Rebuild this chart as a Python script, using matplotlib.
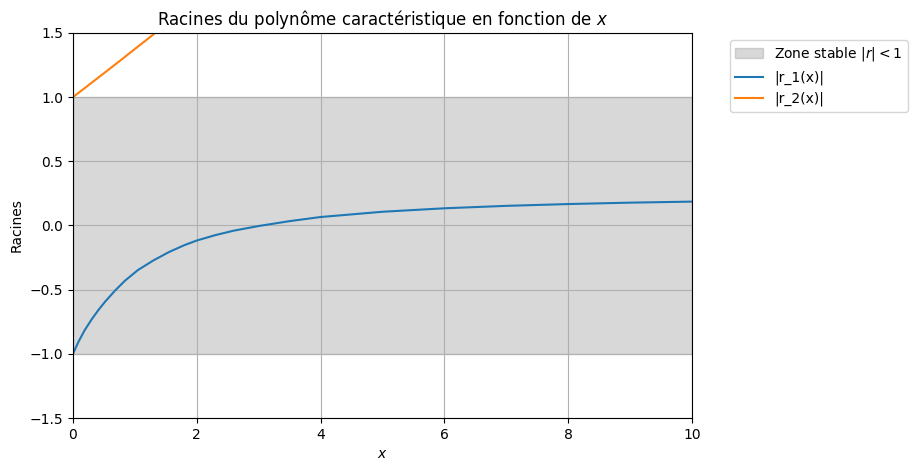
import matplotlib
matplotlib.use("Agg")
import matplotlib.pyplot as plt

# values
x_r1 = [0.0, 0.09, 0.19, 0.3, 0.41, 0.52, 0.68, 0.84, 1.05, 1.3, 1.55, 1.8, 2.0,
        2.3, 2.6, 3.0, 3.5, 4.0, 5.0, 6.0, 7.0, 8.0, 9.0, 10.0]
r1 = [-1.0, -0.905, -0.815, -0.733, -0.659, -0.593, -0.507, -0.43, -0.347, -0.272,
      -0.207, -0.153, -0.117, -0.075, -0.04, -0.004, 0.034, 0.066, 0.107, 0.134,
      0.153, 0.167, 0.178, 0.186]

x_r2 = [0.0, 0.25, 0.5, 0.75, 1.0, 1.25, 1.5]
r2 = [1.0, 1.093, 1.186, 1.280, 1.375, 1.470, 1.566]

zone_x = [0.0, 10.0]

fig, ax = plt.subplots(figsize=(9.19, 4.71), dpi=100)
fig.subplots_adjust(left=0.0794, right=0.753, top=0.930, bottom=0.1125)

ax.fill_between(zone_x, -1, 1, color='gray', alpha=0.3, label=r'Zone stable $|r| < 1$')
ax.plot(x_r1, r1, label='|r_1(x)|')
ax.plot(x_r2, r2, label='|r_2(x)|')

ax.set_xlim(0, 10)
ax.set_ylim(-1.5, 1.5)
ax.set_title(r'Racines du polynôme caractéristique en fonction de $x$')
ax.set_xlabel(r'$x$')
ax.set_ylabel('Racines')
ax.grid(True)
ax.legend(loc='upper left', bbox_to_anchor=(1.05, 1))

fig.savefig('out.png', dpi=100)
